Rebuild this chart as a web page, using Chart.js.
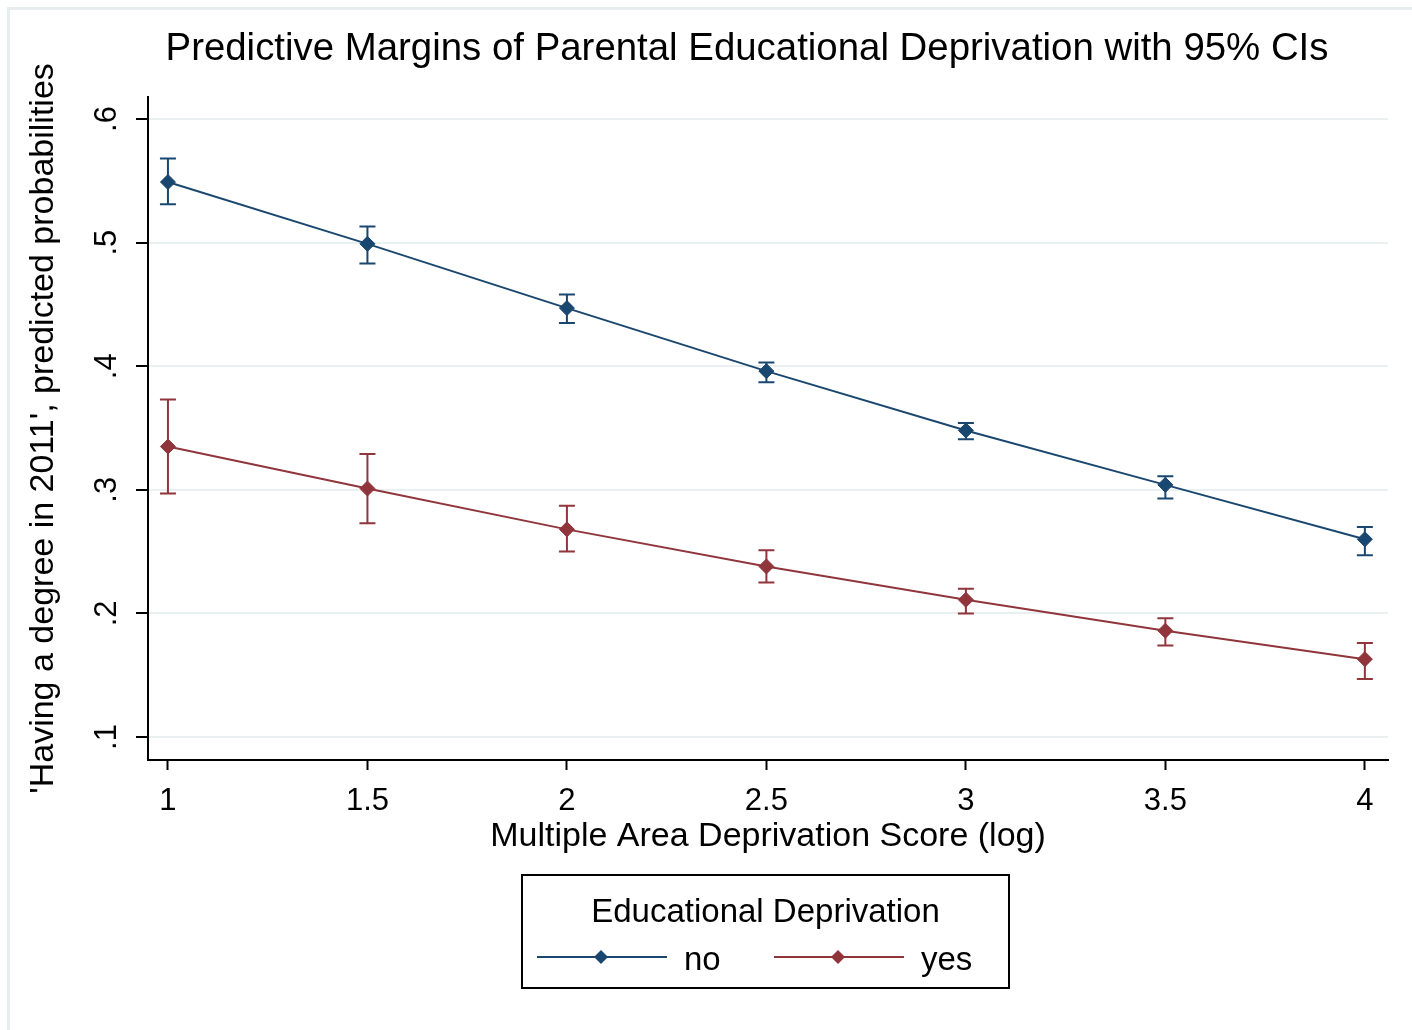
<!DOCTYPE html>
<html>
<head>
<meta charset="utf-8">
<title>Predictive Margins</title>
<script src="https://cdn.jsdelivr.net/npm/chart.js@4"></script>
<style>
  html, body { margin: 0; padding: 0; background: #fff; }
  #wrap { width: 1412px; height: 1030px; }
</style>
</head>
<body>
<div id="wrap"><canvas id="marginsChart" width="1412" height="1030"></canvas></div>
<script>
// values
const xScore = [1, 1.5, 2, 2.5, 3, 3.5, 4];
const noMargin = [0.549, 0.499, 0.447, 0.396, 0.348, 0.304, 0.260];
const noLow = [0.531, 0.483, 0.435, 0.387, 0.341, 0.293, 0.247];
const noHigh = [0.568, 0.513, 0.458, 0.403, 0.354, 0.311, 0.270];
const yesMargin = [0.335, 0.301, 0.268, 0.238, 0.211, 0.186, 0.163];
const yesLow = [0.297, 0.273, 0.250, 0.225, 0.200, 0.174, 0.147];
const yesHigh = [0.373, 0.329, 0.287, 0.251, 0.220, 0.196, 0.176];
const xTicks = [1, 1.5, 2, 2.5, 3, 3.5, 4];
const yTicks = [0.1, 0.2, 0.3, 0.4, 0.5, 0.6];
const groupLabels = ['no', 'yes'];
const groupColors = ['#1a476f', '#90353b'];

const FONT = '"Liberation Sans", Arial, sans-serif';
const toPoints = (ys) => xScore.map((x, i) => ({ x: x, y: ys[i] }));

// background, outer frame, title and the boxed legend
const decorations = {
    id: 'decorations',
    beforeDraw: (chart) => {
        const ctx = chart.ctx;
        ctx.save();
        ctx.fillStyle = '#fff';
        ctx.fillRect(0, 0, chart.width, chart.height);
        ctx.strokeStyle = '#e6eef0';
        ctx.lineWidth = 3;
        ctx.beginPath();
        ctx.moveTo(8.5, chart.height);
        ctx.lineTo(8.5, 8.5);
        ctx.lineTo(chart.width, 8.5);
        ctx.stroke();
        ctx.restore();
    },
    afterDraw: (chart) => {
        const ctx = chart.ctx;
        const area = chart.chartArea;
        ctx.save();
        ctx.fillStyle = '#000';
        ctx.textAlign = 'center';
        ctx.textBaseline = 'alphabetic';
        ctx.font = '38.4px ' + FONT;
        ctx.fillText('Predictive Margins of Parental Educational Deprivation with 95% CIs', 747, 60);

        // legend box
        const boxW = 487, boxH = 113;
        const boxX = Math.round((area.left + area.right) / 2 - boxW / 2) - 3;
        const boxY = 875;
        ctx.strokeStyle = '#000';
        ctx.lineWidth = 2;
        ctx.strokeRect(boxX, boxY, boxW, boxH);
        ctx.font = '33px ' + FONT;
        ctx.fillText('Educational Deprivation', boxX + boxW / 2, boxY + 47);

        const entryOffsets = [15, 252];
        groupLabels.forEach((label, i) => {
            const lx = boxX + entryOffsets[i];
            const ly = boxY + 82;
            ctx.strokeStyle = groupColors[i];
            ctx.lineWidth = 2;
            ctx.beginPath();
            ctx.moveTo(lx, ly);
            ctx.lineTo(lx + 130, ly);
            ctx.stroke();
            ctx.fillStyle = groupColors[i];
            ctx.beginPath();
            ctx.moveTo(lx + 64 - 7, ly);
            ctx.lineTo(lx + 64, ly - 7);
            ctx.lineTo(lx + 64 + 7, ly);
            ctx.lineTo(lx + 64, ly + 7);
            ctx.closePath();
            ctx.fill();
            ctx.fillStyle = '#000';
            ctx.textAlign = 'left';
            ctx.fillText(label, lx + 147, boxY + 95);
        });
        ctx.restore();
    }
};

// 95% CI caps drawn through the chart scales
const errorBars = {
    id: 'errorBars',
    beforeDatasetsDraw: (chart) => {
        const ctx = chart.ctx;
        const xs = chart.scales.x;
        const ys = chart.scales.y;
        const bounds = [[noLow, noHigh], [yesLow, yesHigh]];
        ctx.save();
        ctx.lineWidth = 2;
        bounds.forEach(([lo, hi], d) => {
            ctx.strokeStyle = groupColors[d];
            xScore.forEach((x, i) => {
                const px = xs.getPixelForValue(x);
                const top = ys.getPixelForValue(hi[i]);
                const bot = ys.getPixelForValue(lo[i]);
                ctx.beginPath();
                ctx.moveTo(px, top);
                ctx.lineTo(px, bot);
                ctx.moveTo(px - 8, top);
                ctx.lineTo(px + 8, top);
                ctx.moveTo(px - 8, bot);
                ctx.lineTo(px + 8, bot);
                ctx.stroke();
            });
        });
        ctx.restore();
    }
};

const ctx = document.getElementById('marginsChart').getContext('2d');
const marginsChart = new Chart(ctx, {
    type: 'line',
    data: {
        datasets: [
            {
                label: groupLabels[0],
                data: toPoints(noMargin),
                borderColor: groupColors[0],
                backgroundColor: groupColors[0],
                borderWidth: 2,
                pointStyle: 'rectRot',
                pointRadius: 7.5,
                pointBorderWidth: 1
            },
            {
                label: groupLabels[1],
                data: toPoints(yesMargin),
                borderColor: groupColors[1],
                backgroundColor: groupColors[1],
                borderWidth: 2,
                pointStyle: 'rectRot',
                pointRadius: 7.5,
                pointBorderWidth: 1
            }
        ]
    },
    options: {
        responsive: false,
        animation: false,
        devicePixelRatio: 1,
        layout: { padding: { left: 0, right: 24, top: 97, bottom: 0 } },
        elements: { line: { tension: 0 } },
        plugins: {
            legend: { display: false },
            title: { display: false },
            tooltip: { enabled: false }
        },
        scales: {
            x: {
                type: 'linear',
                min: 0.95,
                max: 4.058,
                afterBuildTicks: (scale) => { scale.ticks = xTicks.map(v => ({ value: v })); },
                afterFit: (scale) => { scale.height = 270; },
                ticks: {
                    color: '#000',
                    padding: 13,
                    font: { family: FONT, size: 31 },
                    maxRotation: 0,
                    autoSkip: false,
                    callback: (v) => String(v)
                },
                grid: {
                    drawOnChartArea: false,
                    drawTicks: true,
                    tickLength: 10,
                    tickColor: '#000',
                    tickWidth: 2
                },
                border: { display: true, color: '#000', width: 2 },
                title: {
                    display: true,
                    text: 'Multiple Area Deprivation Score (log)',
                    color: '#000',
                    font: { family: FONT, size: 34 },
                    padding: { top: 0, bottom: 173 }
                }
            },
            y: {
                type: 'linear',
                min: 0.0814,
                max: 0.6178,
                afterBuildTicks: (scale) => { scale.ticks = yTicks.map(v => ({ value: v })); },
                afterFit: (scale) => { scale.width = 148; },
                ticks: {
                    color: '#000',
                    padding: 16,
                    minRotation: 90,
                    maxRotation: 90,
                    crossAlign: 'center',
                    autoSkip: false,
                    font: { family: FONT, size: 31 },
                    callback: (v) => String(v).replace(/^0/, '')
                },
                grid: {
                    color: '#e9f0f2',
                    lineWidth: 2,
                    drawTicks: true,
                    tickLength: 12,
                    tickColor: '#000',
                    tickWidth: 2
                },
                border: { display: true, color: '#000', width: 2 },
                title: {
                    display: true,
                    text: "'Having a degree in 2011', predicted probabilities",
                    color: '#000',
                    font: { family: FONT, size: 34 },
                    padding: { top: 23, bottom: 0 }
                }
            }
        }
    },
    plugins: [decorations, errorBars]
});
</script>
</body>
</html>
